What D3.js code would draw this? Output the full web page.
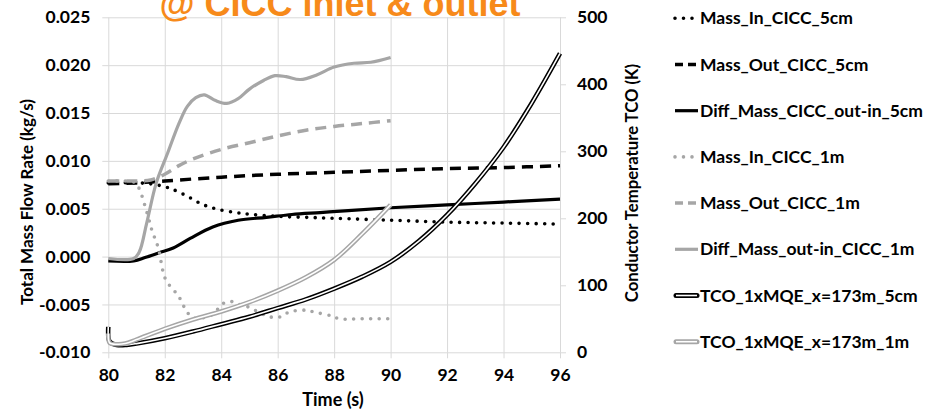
<!DOCTYPE html>
<html>
<head>
<meta charset="utf-8">
<script src="https://cdn.jsdelivr.net/npm/d3@7"></script>
<style>
  body { margin: 0; background: #fff; }
  text { font-family: Lato, "Open Sans", sans-serif; font-weight: bold; fill: #000; }
</style>
</head>
<body>
<div id="chart"></div>
<script>
/* DATA */
const timeTicks = [80, 82, 84, 86, 88, 90, 92, 94, 96];
const massTicks = [-0.010, -0.005, 0.000, 0.005, 0.010, 0.015, 0.020, 0.025];
const tempTicks = [0, 100, 200, 300, 400, 500];

const seriesNames = [
  "Mass_In_CICC_5cm",
  "Mass_Out_CICC_5cm",
  "Diff_Mass_CICC_out-in_5cm",
  "Mass_In_CICC_1m",
  "Mass_Out_CICC_1m",
  "Diff_Mass_out-in_CICC_1m",
  "TCO_1xMQE_x=173m_5cm",
  "TCO_1xMQE_x=173m_1m"
];

// [time (s), mass flow (kg/s)]
const massIn5cm = [[80, 0.0077], [81, 0.0077], [81.5, 0.0076], [82, 0.0073], [82.3, 0.0070], [82.8, 0.0063],
  [83.3, 0.0055], [83.8, 0.0050], [84.5, 0.0046], [85.1, 0.0044], [86, 0.0042], [87, 0.0041], [88, 0.0040],
  [90, 0.0038], [92, 0.0036], [94, 0.0035], [96, 0.0034]];
const massOut5cm = [[80, 0.0076], [81, 0.0077], [82, 0.0079], [84, 0.0083], [86, 0.0086], [88, 0.0088],
  [90, 0.0090], [92, 0.0092], [94, 0.0093], [96, 0.0095]];
const diff5cm = [[80, -0.00045], [80.9, -0.00045], [81.3, -0.0001], [81.8, 0.0004], [82.3, 0.0009], [82.9, 0.0019],
  [83.7, 0.0031], [84.6, 0.0038], [85.6, 0.0041], [86.5, 0.0044], [87.5, 0.0046], [88.5, 0.0048], [90, 0.0051],
  [92, 0.0054], [94, 0.0057], [96, 0.0060]];
const massIn1m = [[80, 0.0079], [80.5, 0.0079], [80.9, 0.0078], [81.06, 0.0073], [81.36, 0.0047], [81.54, 0.0028],
  [81.77, 0.0009], [81.95, -0.0017], [82.07, -0.0026], [82.5, -0.0042], [82.77, -0.0057], [83.0, -0.0064],
  [83.3, -0.0064], [83.6, -0.0062], [83.84, -0.0056], [84.07, -0.0049], [84.37, -0.0047], [84.66, -0.0050],
  [84.9, -0.0052], [85.19, -0.0056], [85.72, -0.0063], [86.1, -0.0063], [86.4, -0.0058], [86.96, -0.0056],
  [87.3, -0.0058], [87.9, -0.0062], [88.2, -0.0065], [89, -0.0065], [90, -0.0065]];
const massOut1m = [[80, 0.0079], [81, 0.0079], [81.5, 0.0080], [82, 0.0086], [82.5, 0.0095], [83, 0.0102],
  [84, 0.0112], [85, 0.0119], [86, 0.0126], [87, 0.0132], [88, 0.0136], [89, 0.0139], [90, 0.0142]];
const diff1m = [[80, -0.0002], [80.9, -0.0002], [81.1, 0.0005], [81.36, 0.0035], [81.7, 0.0077], [82.1, 0.0108],
  [82.5, 0.0139], [82.8, 0.0157], [83.1, 0.0166], [83.4, 0.0169], [83.8, 0.0163], [84.2, 0.0160], [84.6, 0.0165],
  [85, 0.0175], [85.5, 0.0184], [85.9, 0.0189], [86.3, 0.0188], [86.8, 0.0185], [87.4, 0.0190], [88, 0.0198],
  [88.7, 0.0202], [89.3, 0.0203], [90, 0.0208]];
// [time (s), temperature (K)]
const tco5cm = [[80, 38], [80.05, 16], [80.3, 11], [80.65, 11], [81, 13], [82, 21], [83, 31], [84, 42], [85, 53],
  [86, 66], [87, 79], [88, 95], [89, 113], [90, 135], [91, 166], [92, 205], [93, 252], [94, 306], [95, 372], [96, 446]];
const tco1m = [[80, 28], [80.05, 14], [80.3, 12], [80.6, 13], [81, 19], [82, 35], [83, 49], [84, 61], [85, 75],
  [86, 92], [87, 112], [88, 138], [89, 177], [90, 220]];

/* CONSTANTS AND GLOBALS */
const width = 934,
  height = 410,
  plot = { left: 108.3, right: 560, top: 17.3, bottom: 352.3 };

let svg;
let xScale;
let yLeft;
let yRight;

// how each series is drawn: line kind, colour and which axis it belongs to
const styles = [
  { data: massIn5cm, axis: "left", kind: "dot", color: "#000" },
  { data: massOut5cm, axis: "left", kind: "dash", color: "#000" },
  { data: diff5cm, axis: "left", kind: "solid", color: "#000" },
  { data: massIn1m, axis: "left", kind: "dot", color: "#a6a6a6" },
  { data: massOut1m, axis: "left", kind: "dash", color: "#a6a6a6" },
  { data: diff1m, axis: "left", kind: "solid", color: "#a6a6a6" },
  { data: tco5cm, axis: "right", kind: "double", color: "#000" },
  { data: tco1m, axis: "right", kind: "double", color: "#a6a6a6" }
];

init();

function init() {
  xScale = d3.scaleLinear().domain([80, 96]).range([plot.left, plot.right]);
  yLeft = d3.scaleLinear().domain([-0.010, 0.025]).range([plot.bottom, plot.top]);
  yRight = d3.scaleLinear().domain([0, 500]).range([plot.bottom, plot.top]);

  svg = d3.select("#chart").append("svg")
    .attr("width", width)
    .attr("height", height);

  // gridlines (horizontal from the left axis, vertical from the time axis)
  const xGrid = svg.append("g")
    .attr("transform", `translate(0,${plot.bottom})`)
    .call(d3.axisBottom(xScale).tickValues(timeTicks)
      .tickSizeInner(-(plot.bottom - plot.top)).tickSizeOuter(0).tickFormat(""));
  xGrid.select(".domain").remove();

  const yGrid = svg.append("g")
    .attr("transform", `translate(${plot.left},0)`)
    .call(d3.axisLeft(yLeft).tickValues(massTicks)
      .tickSizeInner(-(plot.right - plot.left)).tickSizeOuter(0).tickFormat(""));
  yGrid.select(".domain").remove();

  svg.selectAll(".tick line").attr("stroke", "#d9d9d9").attr("stroke-width", 1);

  // outward tick marks
  const xTickMarks = svg.append("g")
    .attr("transform", `translate(0,${plot.bottom})`)
    .call(d3.axisBottom(xScale).tickValues(timeTicks).tickSize(6).tickPadding(10)
      .tickFormat(d => d));
  const yTickMarks = svg.append("g")
    .attr("transform", `translate(${plot.left},0)`)
    .call(d3.axisLeft(yLeft).tickValues(massTicks).tickSize(6).tickPadding(12)
      .tickFormat(d => d.toFixed(3)));
  const rTickMarks = svg.append("g")
    .attr("transform", `translate(${plot.right},0)`)
    .call(d3.axisRight(yRight).tickValues(tempTicks).tickSize(6).tickPadding(11)
      .tickFormat(d => d));

  [xTickMarks, yTickMarks, rTickMarks].forEach(g => {
    g.select(".domain").remove();
    g.selectAll(".tick line").attr("stroke", "#d9d9d9");
    g.selectAll(".tick text")
      .attr("fill", "#000")
      .style("font-family", "Lato, sans-serif")
      .style("font-weight", "bold")
      .style("font-size", "17.5px");
  });

  // axis titles
  svg.append("text")
    .attr("transform", `translate(33,202) rotate(-90)`)
    .attr("text-anchor", "middle")
    .style("font-size", "17px")
    .text("Total Mass Flow Rate (kg/s)");

  svg.append("text")
    .attr("transform", `translate(638,183) rotate(-90)`)
    .attr("text-anchor", "middle")
    .style("font-size", "16.7px")
    .text("Conductor Temperature TCO (K)");

  svg.append("text")
    .attr("x", 333)
    .attr("y", 406)
    .attr("text-anchor", "middle")
    .style("font-size", "18px")
    .text("Time (s)");

  // chart title, cut off at the top edge like the reference
  svg.append("text")
    .attr("x", 340)
    .attr("y", 16)
    .attr("text-anchor", "middle")
    .style("font-family", "'Liberation Sans', Arial, sans-serif")
    .style("font-size", "36px")
    .style("fill", "#f78a1a")
    .text("@ CICC inlet & outlet");

  draw();
  drawLegend();
}

function applyStroke(sel, s, thin) {
  if (s.kind === "dot") {
    sel.attr("stroke-width", 3.6).attr("stroke-linecap", "round").attr("stroke-dasharray", "0,8.5");
  } else if (s.kind === "dash") {
    sel.attr("stroke-width", 3.5).attr("stroke-dasharray", thin ? "8,5" : "11,7");
  } else {
    sel.attr("stroke-width", 3.2);
  }
  sel.attr("stroke", s.color).attr("fill", "none");
}

function draw() {
  const lineFor = s => d3.line()
    .x(d => xScale(d[0]))
    .y(d => (s.axis === "left" ? yLeft : yRight)(d[1]))
    .curve(d3.curveCatmullRom.alpha(0.5));

  const layer = svg.append("g").attr("class", "series");

  styles.forEach(s => {
    const pathD = lineFor(s)(s.data);
    if (s.kind === "double") {
      layer.append("path").attr("d", pathD)
        .attr("fill", "none").attr("stroke", s.color).attr("stroke-width", 4.6);
      layer.append("path").attr("d", pathD)
        .attr("fill", "none").attr("stroke", "#fff").attr("stroke-width", 1.6);
    } else {
      layer.append("path").attr("d", pathD).call(applyStroke, s, false);
    }
  });
}

function drawLegend() {
  const legend = svg.append("g").attr("class", "legend");
  const rowY = d3.scaleLinear().domain([0, 7]).range([18.3, 341.7]);

  seriesNames.forEach((name, i) => {
    const s = styles[i];
    const y = rowY(i);
    if (s.kind === "double") {
      legend.append("line").attr("x1", 676).attr("x2", 697).attr("y1", y).attr("y2", y)
        .attr("stroke", s.color).attr("stroke-width", 5).attr("stroke-linecap", "round");
      legend.append("line").attr("x1", 676).attr("x2", 697).attr("y1", y).attr("y2", y)
        .attr("stroke", "#fff").attr("stroke-width", 1.6);
    } else {
      const sample = legend.append("line").attr("x1", 675).attr("x2", 698).attr("y1", y).attr("y2", y);
      applyStroke(sample, s, true);
    }
    legend.append("text")
      .attr("x", 700)
      .attr("y", y)
      .attr("dy", "0.35em")
      .style("font-size", "17.5px")
      .text(name);
  });
}
</script>
</body>
</html>
